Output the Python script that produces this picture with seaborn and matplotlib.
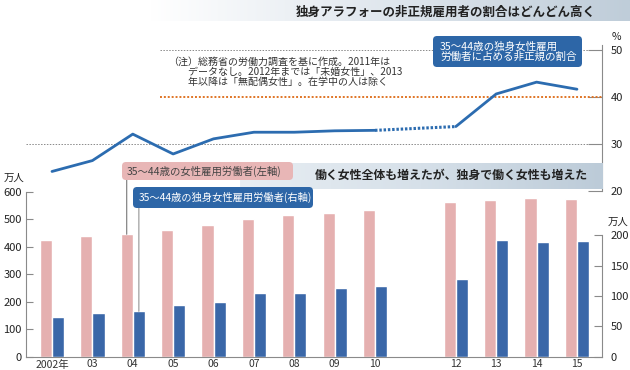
import numpy as np
import pandas as pd
import matplotlib
matplotlib.use("Agg")
import matplotlib.pyplot as plt
import seaborn as sns
from matplotlib.patches import FancyBboxPatch
from matplotlib.colors import LinearSegmentedColormap

# data
years = [2002, 2003, 2004, 2005, 2006, 2007, 2008, 2009, 2010, 2012, 2013, 2014, 2015]
slots = [str(y) for y in range(2002, 2016)]          # 2011 has no data
tick_labels = ["2002年", "03", "04", "05", "06", "07", "08", "09", "10", "", "12", "13", "14", "15"]
all_workers = [424, 440, 446, 463, 481, 503, 515, 524, 533, 563, 572, 578, 576]      # 万人 (left)
single_workers = [66, 72, 75, 86, 91, 105, 105, 113, 116, 128, 192, 189, 191]       # 万人 (right)
nonregular_share = [24.2, 26.5, 32.1, 27.9, 31.1, 32.5, 32.5, 32.8, 32.9, 33.7, 40.6, 43.1, 41.6]  # %

PINK = "#e5b0b0"
BLUE = "#3a67a8"
LINE = "#2c6cb0"
BOXBLUE = "#2d66a7"

sns.set_theme(style="white")
plt.rcParams["font.family"] = ["Noto Sans CJK JP", "DejaVu Sans"]

fig = plt.figure(figsize=(6.3, 3.7), dpi=100)
W, H = 630, 370

def px_rect(x0, y0, x1, y1):
    return [x0 / W, 1 - y1 / H, (x1 - x0) / W, (y1 - y0) / H]

# ---- bar chart ----
ax = fig.add_axes(px_rect(26, 192, 602, 356.7))
df_all = pd.DataFrame({"year": [str(y) for y in years], "value": all_workers, "series": "all"})
df_single = pd.DataFrame({"year": [str(y) for y in years], "value": single_workers, "series": "single"})
pal = {"all": PINK, "single": BLUE}

sns.barplot(data=df_all, x="year", y="value", hue="series", hue_order=["all", "single"],
            order=slots, palette=pal, dodge=True, width=0.6, saturation=1,
            legend=False, ax=ax)
ax_r = ax.twinx()
sns.barplot(data=df_single, x="year", y="value", hue="series", hue_order=["all", "single"],
            order=slots, palette=pal, dodge=True, width=0.6, saturation=1,
            legend=False, ax=ax_r)

xlim = (-0.644, 13.62)
ax.set_xlim(xlim)
ax.set_ylim(0, 600)
ax_r.set_ylim(0, 271.6)
ax.set_xticks(range(len(slots)))
ax.set_xticklabels(tick_labels)
ax.set_yticks(range(0, 601, 100))
ax_r.set_yticks(range(0, 201, 50))
for a in (ax, ax_r):
    a.set_xlabel("")
    a.set_ylabel("")
    a.grid(False)
    a.patch.set_alpha(0)
ax.spines["top"].set_visible(False)
ax.spines["right"].set_visible(False)
ax_r.spines["top"].set_visible(False)
ax_r.spines["left"].set_visible(False)
ax_r.spines["bottom"].set_visible(False)
ax_r.spines["right"].set_bounds(0, 200)
for sp in ("left", "bottom"):
    ax.spines[sp].set_color("#8a8a8a")
    ax.spines[sp].set_linewidth(0.8)
ax_r.spines["right"].set_color("#8a8a8a")
ax_r.spines["right"].set_linewidth(0.8)
ax.tick_params(axis="y", direction="in", length=5, width=0.8, color="#8a8a8a",
               pad=3, labelsize=8, labelcolor="#222")
ax.tick_params(axis="x", length=0, pad=2, labelsize=7.5, labelcolor="#333")
ax_r.tick_params(axis="y", direction="in", length=6, width=0.8, color="#8a8a8a",
                 pad=6, labelsize=8, labelcolor="#222")

# ---- line chart ----
ax_t = fig.add_axes(px_rect(26, 44.8, 602, 191.3))
pos = [slots.index(str(y)) for y in years]
df_line = pd.DataFrame({"pos": pos, "share": nonregular_share})
before = df_line[df_line["pos"] <= slots.index("2010")]
after = df_line[df_line["pos"] >= slots.index("2012")]
gap = df_line[(df_line["pos"] >= slots.index("2010")) & (df_line["pos"] <= slots.index("2012"))]
sns.lineplot(data=before, x="pos", y="share", color=LINE, lw=2.0, ax=ax_t, zorder=5)
sns.lineplot(data=after, x="pos", y="share", color=LINE, lw=2.0, ax=ax_t, zorder=5)
sns.lineplot(data=gap, x="pos", y="share", color=LINE, lw=2.2, ls=(0, (0.8, 0.6)), ax=ax_t, zorder=5)
ax_t.set_xlim(xlim)
ax_t.set_ylim(20, 51.0)
ax_t.set_xlabel("")
ax_t.set_ylabel("")
ax_t.set_xticks([])
ax_t.yaxis.tick_right()
ax_t.set_yticks([20, 30, 40, 50])
ax_t.tick_params(axis="y", direction="in", length=10, width=0.8, color="#8a8a8a",
                 pad=6, labelsize=8, labelcolor="#222")
for sp in ("left", "top", "bottom"):
    ax_t.spines[sp].set_visible(False)
ax_t.spines["right"].set_color("#8a8a8a")
ax_t.spines["right"].set_linewidth(0.8)
ax_t.patch.set_alpha(0)
ax_t.grid(False)
dot = (0, (1.5, 1.5))
ax_t.axhline(50, xmin=0.233, color="#8a8a8a", lw=0.7, ls=dot, zorder=1)
ax_t.axhline(40, xmin=0.233, color="#e07526", lw=1.4, ls=(0, (1, 1)), zorder=1)
ax_t.axhline(30, xmin=0.0, color="#8a8a8a", lw=0.7, ls=dot, zorder=1)
ax_t.axhline(20, xmin=0.024, color="#8a8a8a", lw=0.7, ls=dot, zorder=1)

# ---- overlay in pixel coordinates ----
ov = fig.add_axes([0, 0, 1, 1], zorder=10)
ov.patch.set_alpha(0)

grad = np.linspace(0, 1, 256).reshape(1, -1)
cm_top = LinearSegmentedColormap.from_list("top", ["#ffffff", "#dfe6ed", "#bfcdd9"])
ov.imshow(grad, extent=(150, 630, 21, 0), cmap=cm_top, aspect="auto", zorder=1)
cm_mid = LinearSegmentedColormap.from_list("mid", ["#e8eef3", "#d6e0e9", "#bccbd8"])
ov.imshow(grad, extent=(240, 603, 189, 163), cmap=cm_mid, aspect="auto", zorder=1)
ov.set_xlim(0, W)
ov.set_ylim(H, 0)
ov.axis("off")

ov.text(596, 12, "独身アラフォーの非正規雇用者の割合はどんどん高く", ha="right", va="center",
        fontsize=9, fontweight="bold", color="#222", zorder=3)
ov.text(588, 175, "働く女性全体も増えたが、独身で働く女性も増えた", ha="right", va="center",
        fontsize=8.6, fontweight="bold", color="#222", zorder=3)

ov.add_patch(FancyBboxPatch((433, 36), 149, 31, boxstyle="round,pad=0,rounding_size=4",
                            fc=BOXBLUE, ec="none", zorder=2))
ov.text(440, 51.5, "35～44歳の独身女性雇用\n労働者に占める非正規の割合", ha="left", va="center",
        fontsize=7.6, color="white", linespacing=1.05, zorder=3)

ov.text(168, 57, "（注）総務省の労働力調査を基に作成。2011年は\n　　データなし。2012年までは「未婚女性」、2013\n　　年以降は「無配偶女性」。在学中の人は除く",
        ha="left", va="top", fontsize=7.2, color="#333", linespacing=1.0, zorder=3)

ov.add_patch(FancyBboxPatch((122, 162), 171, 18, boxstyle="round,pad=0,rounding_size=4",
                            fc="#e8b6b6", ec="none", zorder=2))
ov.text(127, 171, "35～44歳の女性雇用労働者(左軸)", ha="left", va="center",
        fontsize=7.5, color="#444", zorder=3)
ov.add_patch(FancyBboxPatch((133, 187), 180, 21, boxstyle="round,pad=0,rounding_size=4",
                            fc=BOXBLUE, ec="none", zorder=2))
ov.text(139, 197.5, "35～44歳の独身女性雇用労働者(右軸)", ha="left", va="center",
        fontsize=7.4, color="white", zorder=3)

ov.text(4, 178, "万人", ha="left", va="center", fontsize=7.5, color="#222")
ov.text(608, 222, "万人", ha="left", va="center", fontsize=7.5, color="#222")
ov.text(612, 37, "%", ha="left", va="center", fontsize=7.5, color="#222")

# leader lines from the 2004 bars up to the label boxes
pb = ax.containers[0][2]
bx = pb.get_x() + pb.get_width() / 2
ax.annotate("", xy=(bx, pb.get_height()), xytext=(bx, 180),
            textcoords=(ax.transData, ov.transData),
            arrowprops=dict(arrowstyle="-", color="#777", lw=0.8, shrinkA=0, shrinkB=0))
bb = ax_r.containers[-1][2]
bx2 = bb.get_x() + bb.get_width() / 2
ax_r.annotate("", xy=(bx2, bb.get_height()), xytext=(bx2, 208),
              textcoords=(ax_r.transData, ov.transData),
              arrowprops=dict(arrowstyle="-", color="#aaa", lw=1.0, shrinkA=0, shrinkB=0))

fig.savefig("out.png", dpi=100)
